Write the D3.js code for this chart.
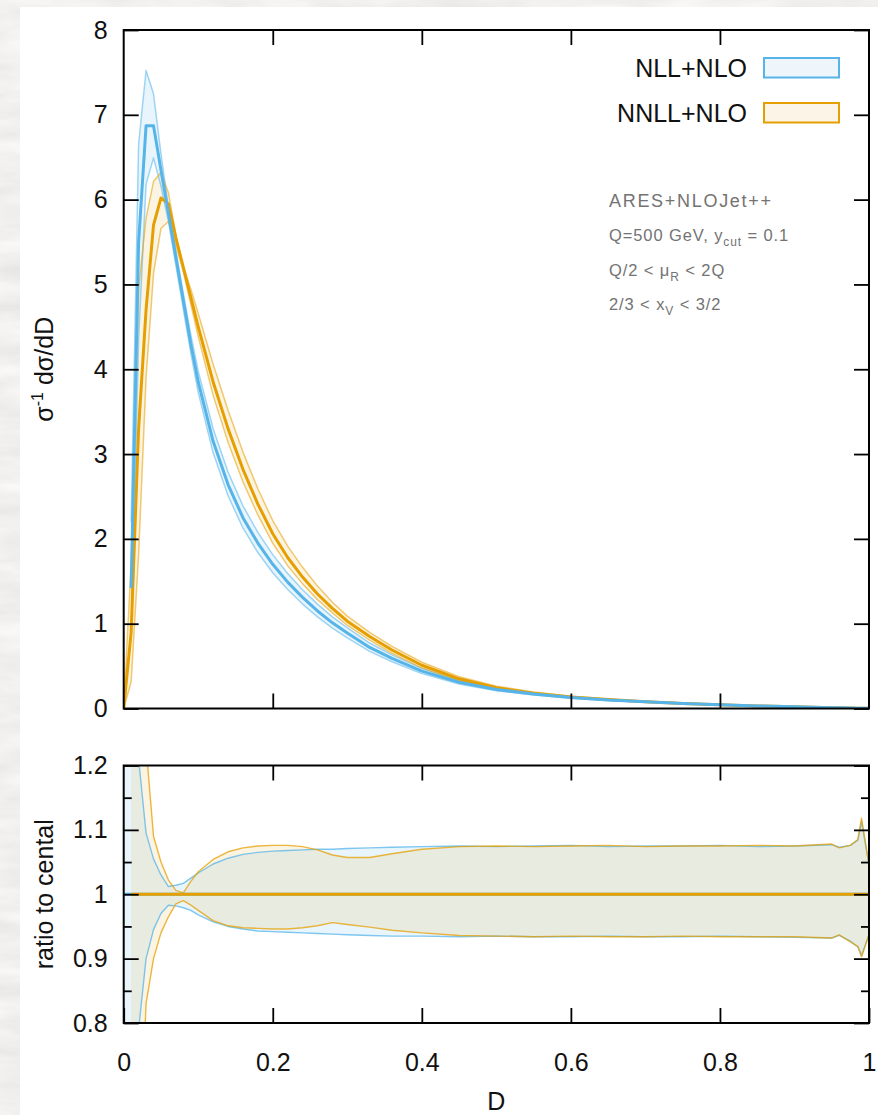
<!DOCTYPE html>
<html><head><meta charset="utf-8">
<script src="https://cdn.jsdelivr.net/npm/d3@7"></script>
<style>
html,body{margin:0;padding:0;background:#fff;}
svg{display:block;}
text{font-family:"Liberation Sans",Arial,Helvetica,sans-serif;}
</style></head><body>
<svg id="chart" width="878" height="1115"></svg>
<script>
// D values at which the distributions are sampled
const dGrid = [0, 0.01, 0.02, 0.03, 0.04, 0.05, 0.06, 0.07, 0.08, 0.09, 0.10,
  0.12, 0.14, 0.16, 0.18, 0.20, 0.22, 0.24, 0.26, 0.28, 0.30, 0.33, 0.36, 0.40,
  0.45, 0.50, 0.55, 0.60, 0.65, 0.70, 0.75, 0.80, 0.85, 0.90, 0.95, 0.96, 0.975,
  0.985, 0.99, 1.0];

// central predictions, sigma^-1 dsigma/dD
const nllCentral = [null, 1.42, 5.5, 6.87, 6.87, 6.35, 5.84, 5.32, 4.81, 4.30, 3.85,
  3.15, 2.64, 2.25, 1.95, 1.70, 1.49, 1.31, 1.15, 1.01, 0.89, 0.72, 0.59, 0.44,
  0.31, 0.225, 0.17, 0.13, 0.10, 0.08, 0.06, 0.045, 0.03, 0.02, 0.01, 0.008, 0.006,
  0.004, 0.003, 0.002];
const nnllCentral = [0, 0.9, 3.3, 4.7, 5.7, 6.02, 5.95, 5.55, 5.2, 4.85, 4.5,
  3.85, 3.3, 2.82, 2.41, 2.06, 1.78, 1.55, 1.35, 1.18, 1.03, 0.85, 0.69, 0.51,
  0.35, 0.245, 0.18, 0.135, 0.105, 0.08, 0.06, 0.045, 0.03, 0.02, 0.01, 0.008, 0.006,
  0.004, 0.003, 0.002];

// scale-variation envelopes, as ratio to the central prediction
const nllRatioHi = [1.6, 1.55, 1.21, 1.095, 1.055, 1.03, 1.012, 1.014, 1.017, 1.025, 1.033,
  1.047, 1.056, 1.062, 1.065, 1.067, 1.068, 1.069, 1.07, 1.07, 1.071, 1.072, 1.073, 1.074,
  1.075, 1.074, 1.075, 1.076, 1.074, 1.075, 1.075, 1.076, 1.074, 1.075, 1.077, 1.073, 1.076,
  1.084, 1.113, 1.046];
const nllRatioLo = [0.4, 0.585, 0.79, 0.9, 0.945, 0.97, 0.983, 0.982, 0.979, 0.975, 0.968,
  0.957, 0.95, 0.946, 0.943, 0.942, 0.941, 0.94, 0.939, 0.938, 0.937, 0.936, 0.935, 0.935,
  0.934, 0.935, 0.934, 0.934, 0.935, 0.934, 0.934, 0.935, 0.934, 0.933, 0.932, 0.936, 0.927,
  0.918, 0.905, 0.937];
const nnllRatioHi = [null, 1.9, 1.5, 1.23, 1.09, 1.05, 1.022, 1.006, 1.002, 1.02, 1.035,
  1.054, 1.066, 1.072, 1.075, 1.076, 1.076, 1.074, 1.069, 1.061, 1.057, 1.057, 1.063, 1.07,
  1.074, 1.075, 1.074, 1.075, 1.076, 1.074, 1.075, 1.075, 1.076, 1.075, 1.078, 1.072, 1.076,
  1.085, 1.118, 1.046];
const nnllRatioLo = [null, 0.35, 0.55, 0.83, 0.9, 0.94, 0.965, 0.985, 0.99, 0.983, 0.975,
  0.959, 0.951, 0.948, 0.947, 0.946, 0.946, 0.948, 0.951, 0.956, 0.953, 0.949, 0.944, 0.94,
  0.936, 0.935, 0.934, 0.935, 0.934, 0.934, 0.935, 0.934, 0.934, 0.934, 0.932, 0.937, 0.926,
  0.919, 0.903, 0.937];

const seriesNames = ["NLL+NLO", "NNLL+NLO"];
const yTopTicks = [0, 1, 2, 3, 4, 5, 6, 7, 8];
const yBotTicks = [0.8, 0.9, 1, 1.1, 1.2];
const yBotMinor = [0.85, 0.95, 1.05, 1.15];
const xTicks = [0, 0.2, 0.4, 0.6, 0.8, 1];
const infoLines = [
  ["ARES+NLOJet++"],
  ["Q=500 GeV, y", "cut", " = 0.1"],
  ["Q/2 < \u03bc", "R", " < 2Q"],
  ["2/3 < x", "V", " < 3/2"]
];

const W = 878, H = 1115;
const svg = d3.select("#chart");
const defs = svg.append("defs");

// textured grey backdrop with the white sheet on top
const f = defs.append("filter").attr("id", "paper").attr("x", 0).attr("y", 0)
  .attr("width", 1).attr("height", 1);
f.append("feTurbulence").attr("type", "fractalNoise").attr("baseFrequency", "0.012 0.05")
  .attr("numOctaves", 4).attr("seed", 7);
f.append("feColorMatrix").attr("type", "matrix")
  .attr("values", "0.24 0 0 0 0.76  0.24 0 0 0 0.75  0.24 0 0 0 0.735  0 0 0 0 1");
svg.append("rect").attr("width", W).attr("height", H).attr("filter", "url(#paper)");
svg.append("rect").attr("x", 20).attr("y", 7).attr("width", W - 20).attr("height", H - 7)
  .attr("fill", "#fff");

const x = d3.scaleLinear().domain([0, 1]).range([123.7, 869]);
const yTop = d3.scaleLinear().domain([0, 8]).range([708.5, 30]);
const yBot = d3.scaleLinear().domain([0.8, 1.2]).range([1023, 765.5]);

const series = [
  { name: seriesNames[0], color: "#56b4e9", fill: "rgba(86,180,233,0.13)",
    legendFill: "#eef6fc", central: nllCentral, hi: nllRatioHi, lo: nllRatioLo },
  { name: seriesNames[1], color: "#e69f00", fill: "rgba(230,159,0,0.11)",
    legendFill: "#fcf4e6", central: nnllCentral, hi: nnllRatioHi, lo: nnllRatioLo }
];

function bandValue(s, i, ratio) {
  const c = s.central[i];
  if (c === 0) return 0;
  if (c == null || ratio[i] == null) return null;
  return c * ratio[i];
}
series.forEach(s => {
  s.top = dGrid.map((d, i) => ({ d, c: s.central[i], hi: bandValue(s, i, s.hi), lo: bandValue(s, i, s.lo) }));
  s.bot = dGrid.map((d, i) => ({ d, hi: s.hi[i], lo: s.lo[i] }));
});

defs.append("clipPath").attr("id", "clipTop").append("rect")
  .attr("x", x(0)).attr("y", yTop(8)).attr("width", x(1) - x(0)).attr("height", yTop(0) - yTop(8));
defs.append("clipPath").attr("id", "clipBot").append("rect")
  .attr("x", x(0)).attr("y", yBot(1.2)).attr("width", x(1) - x(0)).attr("height", yBot(0.8) - yBot(1.2));

// ---------- upper panel: distributions ----------
const gTop = svg.append("g").attr("clip-path", "url(#clipTop)");
const areaTop = d3.area().defined(p => p.hi != null && p.lo != null)
  .x(p => x(p.d)).y0(p => yTop(p.lo)).y1(p => yTop(p.hi));
const lineTop = key => d3.line().defined(p => p[key] != null).x(p => x(p.d)).y(p => yTop(p[key]));

series.forEach(s => {
  gTop.append("path").attr("d", areaTop(s.top)).attr("fill", s.fill);
});
series.forEach(s => {
  ["hi", "lo"].forEach(k => gTop.append("path").attr("d", lineTop(k)(s.top))
    .attr("fill", "none").attr("stroke", s.color).attr("stroke-opacity", 0.55)
    .attr("stroke-width", 1.5).attr("stroke-linejoin", "round"));
});
[series[1], series[0]].forEach(s => {
  gTop.append("path").attr("d", lineTop("c")(s.top)).attr("fill", "none")
    .attr("stroke", s.color).attr("stroke-width", 3).attr("stroke-linejoin", "round");
});

// ---------- lower panel: ratio to central ----------
const gBot = svg.append("g").attr("clip-path", "url(#clipBot)");
const areaBot = d3.area().defined(p => p.hi != null && p.lo != null)
  .x(p => x(p.d)).y0(p => yBot(p.lo)).y1(p => yBot(p.hi));
const lineBot = key => d3.line().defined(p => p[key] != null).x(p => x(p.d)).y(p => yBot(p[key]));

series.forEach(s => {
  gBot.append("path").attr("d", areaBot(s.bot)).attr("fill", s.fill);
});
series.forEach(s => {
  ["hi", "lo"].forEach(k => gBot.append("path").attr("d", lineBot(k)(s.bot))
    .attr("fill", "none").attr("stroke", s.color).attr("stroke-opacity", 0.75)
    .attr("stroke-width", 1.4).attr("stroke-linejoin", "round"));
});
series.forEach(s => {
  const pts = s.bot.filter(p => p.hi != null);
  gBot.append("path").attr("d", d3.line().x(p => x(p.d)).y(() => yBot(1))(pts))
    .attr("fill", "none").attr("stroke", s.color).attr("stroke-width", 3);
});

// ---------- axes ----------
function styleAxis(g, fontSize) {
  g.select(".domain").remove();
  g.selectAll(".tick line").attr("stroke", "#000").attr("stroke-width", 1.8);
  g.selectAll(".tick text").attr("fill", "#111").attr("font-size", fontSize)
    .attr("font-family", "'Liberation Sans', Arial, sans-serif");
  g.attr("font-family", null).attr("font-size", null);
}
const fmtRatio = d => String(+d.toFixed(1));

// upper panel
svg.append("g").attr("transform", `translate(${x(0)},0)`)
  .call(d3.axisLeft(yTop).tickValues(yTopTicks).tickSize(-15).tickPadding(16).tickFormat(d3.format("d")))
  .call(g => styleAxis(g, 25));
svg.append("g").attr("transform", `translate(${x(1)},0)`)
  .call(d3.axisRight(yTop).tickValues(yTopTicks).tickSize(-15).tickFormat(""))
  .call(g => styleAxis(g, 25));
svg.append("g").attr("transform", `translate(0,${yTop(0)})`)
  .call(d3.axisBottom(x).tickValues(xTicks.slice(1, -1)).tickSize(-15).tickFormat(""))
  .call(g => styleAxis(g, 25));
svg.append("g").attr("transform", `translate(0,${yTop(8)})`)
  .call(d3.axisTop(x).tickValues(xTicks.slice(1, -1)).tickSize(-15).tickFormat(""))
  .call(g => styleAxis(g, 25));

// lower panel
svg.append("g").attr("transform", `translate(${x(0)},0)`)
  .call(d3.axisLeft(yBot).tickValues(yBotTicks).tickSize(-15).tickPadding(16).tickFormat(fmtRatio))
  .call(g => styleAxis(g, 25));
svg.append("g").attr("transform", `translate(${x(0)},0)`)
  .call(d3.axisLeft(yBot).tickValues(yBotMinor).tickSize(-8).tickFormat(""))
  .call(g => styleAxis(g, 25));
svg.append("g").attr("transform", `translate(${x(1)},0)`)
  .call(d3.axisRight(yBot).tickValues(yBotTicks).tickSize(-15).tickFormat(""))
  .call(g => styleAxis(g, 25));
svg.append("g").attr("transform", `translate(${x(1)},0)`)
  .call(d3.axisRight(yBot).tickValues(yBotMinor).tickSize(-8).tickFormat(""))
  .call(g => styleAxis(g, 25));
svg.append("g").attr("transform", `translate(0,${yBot(0.8)})`)
  .call(d3.axisBottom(x).tickValues(xTicks).tickSize(-15).tickPadding(30).tickFormat(d => String(d)))
  .call(g => styleAxis(g, 25));
svg.append("g").attr("transform", `translate(0,${yBot(1.2)})`)
  .call(d3.axisTop(x).tickValues(xTicks.slice(1, -1)).tickSize(-15).tickFormat(""))
  .call(g => styleAxis(g, 25));

// frames
[[yTop(8), yTop(0)], [yBot(1.2), yBot(0.8)]].forEach(([t, b]) => {
  svg.append("rect").attr("x", x(0)).attr("y", t).attr("width", x(1) - x(0)).attr("height", b - t)
    .attr("fill", "none").attr("stroke", "#000").attr("stroke-width", 2);
});

// axis titles
const yt = svg.append("text").attr("transform", `translate(53,${(yTop(0) + yTop(8)) / 2})rotate(-90)`)
  .attr("text-anchor", "middle").attr("font-size", 25).attr("fill", "#111");
yt.append("tspan").text("\u03c3");
yt.append("tspan").attr("dy", -10).attr("font-size", 16).text("-1");
yt.append("tspan").attr("dy", 10).text(" d\u03c3/dD");

svg.append("text").attr("transform", `translate(53,${(yBot(0.8) + yBot(1.2)) / 2})rotate(-90)`)
  .attr("text-anchor", "middle").attr("font-size", 25).attr("fill", "#111").text("ratio to cental");
svg.append("text").attr("x", (x(0) + x(1)) / 2).attr("y", 1110).attr("text-anchor", "middle")
  .attr("font-size", 25).attr("fill", "#111").text("D");

// legend
series.forEach((s, i) => {
  const yy = 77 + i * 45;
  svg.append("text").attr("x", 747).attr("y", yy).attr("text-anchor", "end")
    .attr("font-size", 25).attr("fill", "#111").text(s.name);
  svg.append("rect").attr("x", 764).attr("y", yy - 19).attr("width", 75).attr("height", 19.5)
    .attr("fill", s.legendFill).attr("stroke", s.color).attr("stroke-width", 2);
});

// run information
infoLines.forEach((parts, i) => {
  const t = svg.append("text").attr("x", 609).attr("y", 207 + i * 34.3)
    .attr("font-size", i === 0 ? 18 : 16.5).attr("fill", "#737373")
    .attr("letter-spacing", i === 0 ? 1.7 : 0.9);
  t.append("tspan").text(parts[0]);
  if (parts.length > 1) {
    t.append("tspan").attr("dy", 5).attr("font-size", 12).text(parts[1]);
    t.append("tspan").attr("dy", -5).text(parts[2]);
  }
});
</script>
</body></html>
